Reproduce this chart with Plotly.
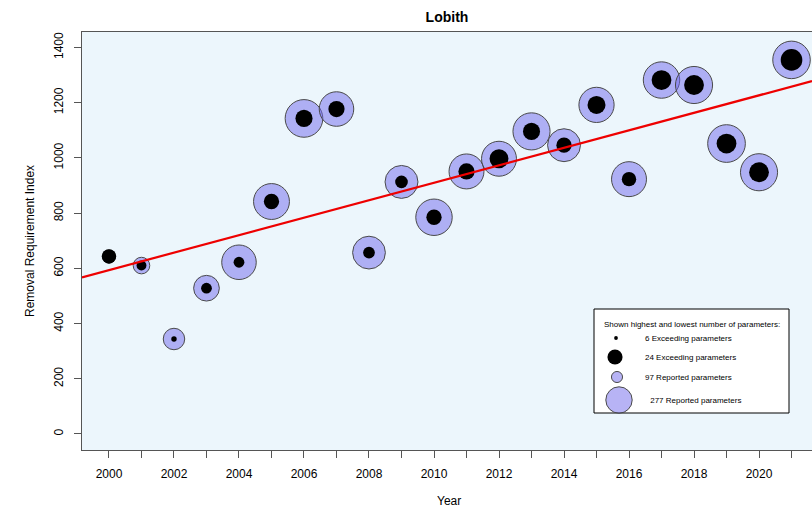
import numpy as np
import plotly.graph_objects as go

# ---- data ----
years = list(range(2000, 2022))
removal_index = [643, 610, 344, 528, 622, 842, 1143, 1177, 657, 913, 785,
                 951, 997, 1096, 1046, 1192, 923, 1282, 1264, 1052, 948, 1355]
reported_params = [97, 122, 158, 189, 254, 264, 277, 254, 241, 242, 268,
                   257, 257, 273, 242, 259, 257, 268, 273, 277, 273, 276]
exceeding_params = [16, 11, 6, 12, 12, 17, 19, 18, 13, 14, 17,
                    18, 21, 19, 17, 20, 16, 22, 22, 22, 22, 24]
y_ticks = [0, 200, 400, 600, 800, 1000, 1200, 1400]
x_tick_labels = [str(y) if y % 2 == 0 else "" for y in years]

# ---- style ----
FONT = "Liberation Sans, Arial, Helvetica, sans-serif"
PURPLE = "rgba(112,104,236,0.5)"
REP_SCALE = 0.136   # px per reported parameter (diameter)
EXC_SCALE = 0.90    # px per exceeding parameter (diameter)
LEG_RATIO = 0.70
AX = "#555555"

W, H = 812, 507
L, R, T, B = 82, 0, 32, 57
pw, ph = W - L - R, H - T - B

x_range = [1999.17, 2021.63]
y_range = [-58, 1456]

def px_x(px):
    return (px - L) / pw

def px_y(py):
    return (H - B - py) / ph

fig = go.Figure()

fig.add_trace(go.Scatter(
    x=years, y=removal_index, mode="markers",
    marker=dict(size=[r * REP_SCALE for r in reported_params], color=PURPLE,
                opacity=1, line=dict(color="#4a4a4a", width=1)),
    hoverinfo="skip", showlegend=False))
fig.add_trace(go.Scatter(
    x=years, y=removal_index, mode="markers",
    marker=dict(size=[e * EXC_SCALE for e in exceeding_params], color="black",
                opacity=1, line=dict(width=0)),
    hoverinfo="skip", showlegend=False))

# regression line
slope, intercept = np.polyfit(years, removal_index, 1)
fig.add_trace(go.Scatter(
    x=x_range, y=[slope * x + intercept for x in x_range], mode="lines",
    line=dict(color="#ee0000", width=2.2), hoverinfo="skip", showlegend=False))

# ---- custom legend ----
fig.add_shape(type="rect", xref="paper", yref="paper",
              x0=px_x(594), x1=px_x(789), y0=px_y(413), y1=px_y(309),
              fillcolor="white", line=dict(color="black", width=1), layer="below")

leg_x = [px_x(616), px_x(615), px_x(617), px_x(619)]
leg_y = [px_y(338), px_y(357), px_y(377), px_y(400)]
leg_sizes = [min(exceeding_params) * EXC_SCALE * LEG_RATIO,
             max(exceeding_params) * EXC_SCALE * LEG_RATIO,
             min(reported_params) * REP_SCALE * LEG_RATIO * 1.2,
             max(reported_params) * REP_SCALE * LEG_RATIO]
fig.add_trace(go.Scatter(
    x=leg_x, y=leg_y, xaxis="x2", yaxis="y2", mode="markers",
    marker=dict(size=leg_sizes, color=["black", "black", PURPLE, PURPLE], opacity=1,
                line=dict(color=["black", "black", "#4a4a4a", "#4a4a4a"], width=[0, 0, 1, 1])),
    hoverinfo="skip", showlegend=False))

leg_texts = [f"{min(exceeding_params)} Exceeding parameters",
             f"{max(exceeding_params)} Exceeding parameters",
             f"{min(reported_params)} Reported parameters",
             f" {max(reported_params)} Reported parameters"]
leg_text_x = [px_x(643), px_x(643), px_x(643), px_x(646)]
annotations = [dict(text="Shown highest and lowest number of parameters:",
                    x=px_x(602), y=px_y(324), xref="paper", yref="paper",
                    xanchor="left", yanchor="middle", showarrow=False,
                    font=dict(size=8, family=FONT, color="black"))]
for t, xx, yy in zip(leg_texts, leg_text_x, leg_y):
    annotations.append(dict(text=t, x=xx, y=yy, xref="paper", yref="paper",
                            xanchor="left", yanchor="middle", showarrow=False,
                            font=dict(size=8, family=FONT, color="black")))

# axis titles
annotations.append(dict(text="Year", x=px_x(449), y=px_y(501), xref="paper", yref="paper",
                        xanchor="center", yanchor="middle", showarrow=False,
                        font=dict(size=12, family=FONT, color="black")))
annotations.append(dict(text="Removal Requirement Index", x=px_x(30), y=0.5,
                        xref="paper", yref="paper", textangle=-90,
                        xanchor="center", yanchor="middle", showarrow=False,
                        font=dict(size=12, family=FONT, color="black")))

fig.update_layout(
    width=W, height=H,
    margin=dict(l=L, r=R, t=T, b=B),
    paper_bgcolor="white", plot_bgcolor="#ECF6FC",
    title=dict(text="<b>Lobith</b>", x=px_x(447), xref="paper", xanchor="center",
               y=1 - 17 / H, yref="container", yanchor="middle",
               font=dict(size=14, family=FONT, color="black")),
    font=dict(family=FONT, size=12, color="black"),
    xaxis=dict(range=x_range, tickmode="array", tickvals=years, ticktext=x_tick_labels,
               ticks="outside", ticklen=7, tickcolor=AX, tickwidth=1,
               showline=True, linecolor=AX, linewidth=1, mirror=True,
               showgrid=False, zeroline=False, ticklabelstandoff=6,
               tickfont=dict(size=12, family=FONT, color="black")),
    yaxis=dict(range=y_range, tickmode="array", tickvals=y_ticks,
               ticks="outside", ticklen=7, tickcolor=AX, tickwidth=1,
               showline=True, linecolor=AX, linewidth=1, mirror=False,
               showgrid=False, zeroline=False, tickangle=-90, ticklabelstandoff=6,
               tickfont=dict(size=12, family=FONT, color="black")),
    xaxis2=dict(range=[0, 1], overlaying="x", visible=False, fixedrange=True),
    yaxis2=dict(range=[0, 1], overlaying="y", visible=False, fixedrange=True),
    annotations=annotations,
)

fig.write_html(
    "out.html",
    config={"displayModeBar": False},
    post_script="document.body.style.margin='0';document.body.style.padding='0';"
                "document.documentElement.style.overflow='hidden';",
)
